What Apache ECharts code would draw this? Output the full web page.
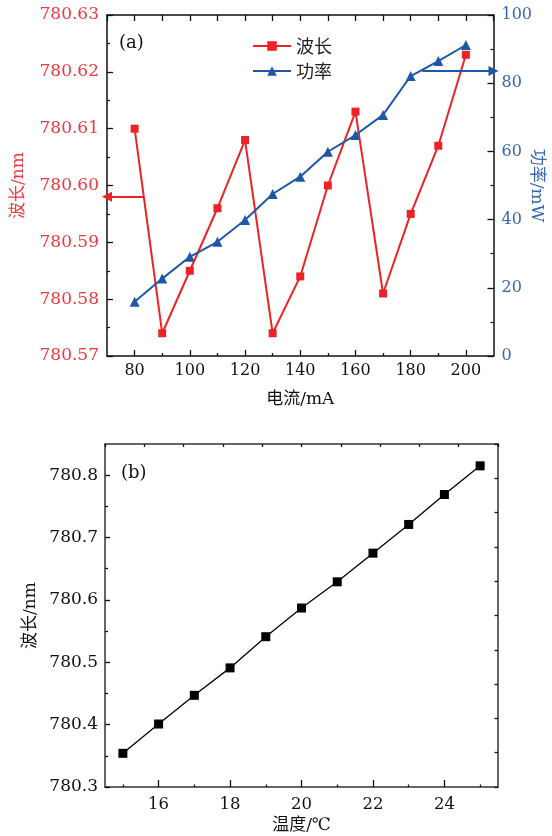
<!DOCTYPE html>
<html>
<head>
<meta charset="utf-8">
<title>波长 - 电流 / 温度</title>
<script src="https://cdn.jsdelivr.net/npm/echarts@6.0.0/dist/echarts.min.js"></script>
<style>
html, body { margin: 0; padding: 0; background: #fff; }
#chart { width: 552px; height: 836px; }
#err { position: absolute; left: 0; top: 0; font-size: 11px; color: #c00; }
</style>
</head>
<body>
<div id="chart"></div>
<pre id="err"></pre>
<script>
// (a) 电流扫描
var currentMA = [80, 90, 100, 110, 120, 130, 140, 150, 160, 170, 180, 190, 200];
var waveA = [780.610, 780.574, 780.585, 780.596, 780.608, 780.574, 780.584, 780.600, 780.613, 780.581, 780.595, 780.607, 780.623];
var powerMW = [15.9, 22.7, 29.1, 33.5, 39.9, 47.5, 52.6, 59.9, 64.8, 70.7, 82.1, 86.5, 91.2];
// arrows that point each curve to its own axis
var arrowWave = [[83.4, 780.598], [70, 780.598]];
var arrowPower = [[184.2, 83.6], [210, 83.6]];
var ticksAx = [80, 100, 120, 140, 160, 180, 200];
var minorTicksAx = [90, 110, 130, 150, 170, 190];

// (b) 温度扫描
var tempC = [15, 16, 17, 18, 19, 20, 21, 22, 23, 24, 25];
var waveB = [780.354, 780.401, 780.447, 780.491, 780.541, 780.587, 780.629, 780.675, 780.721, 780.769, 780.815];
var ticksBx = [16, 18, 20, 22, 24];
var minorTicksBx = [15, 17, 19, 21, 23, 25];
var ticksBy = [780.3, 780.4, 780.5, 780.6, 780.7, 780.8];
var minorTicksBy = [780.35, 780.45, 780.55, 780.65, 780.75];

var RED = '#ec2227';
var RED_TXT = '#ea3a40';
var BLUE = '#1f57a7';
var BLUE_TXT = '#3a66b0';
var SERIF = '"DejaVu Serif", "Noto Sans CJK SC"';
var CJK = '"Noto Sans CJK SC"';

function pairs(xs, ys) {
  return xs.map(function (x, i) { return [x, ys[i]]; });
}

// every axis here is a plain black line with inside ticks
function frame(extra) {
  var base = {
    type: 'value',
    nameMoveOverlap: false,
    axisLine: { show: true, onZero: false, lineStyle: { color: '#111', width: 1.5 } },
    axisTick: { show: true, inside: true, length: 6, lineStyle: { color: '#111', width: 1.3 } },
    axisLabel: { show: false },
    splitLine: { show: false }
  };
  for (var k in extra) {
    if (typeof extra[k] === 'object' && base[k] && !Array.isArray(extra[k])) {
      base[k] = Object.assign({}, base[k], extra[k]);
    } else {
      base[k] = extra[k];
    }
  }
  return base;
}

var chart = echarts.init(document.getElementById('chart'));

var option = {
  animation: false,
  backgroundColor: '#fff',
  grid: [
    { left: 107, top: 15, width: 386.5, height: 341, outerBoundsMode: 'none' },
    { left: 105, top: 444, width: 393, height: 343, outerBoundsMode: 'none' }
  ],
  legend: {
    data: ['波长', '功率'],
    orient: 'vertical',
    left: 247,
    top: 32,
    itemWidth: 38,
    itemHeight: 12,
    itemGap: 7,
    textStyle: { fontFamily: CJK, fontSize: 18, color: '#222' }
  },
  graphic: [
    { type: 'text', left: 119, top: 34, style: { text: '(a)', font: '18px "DejaVu Serif"', fill: '#111' } },
    { type: 'text', left: 121, top: 464, style: { text: '(b)', font: '18px "DejaVu Serif"', fill: '#111' } }
  ],
  xAxis: [
    frame({
      gridIndex: 0, position: 'bottom', min: 70, max: 210,
      name: '电流/mA', nameLocation: 'middle', nameGap: 35,
      nameTextStyle: { fontFamily: SERIF, fontSize: 17, color: '#111' },
      axisTick: { customValues: ticksAx, length: 6 },
      axisLabel: { show: true, customValues: ticksAx, margin: 7, fontFamily: SERIF, fontSize: 16, color: '#111' }
    }),
    frame({
      gridIndex: 0, position: 'bottom', min: 70, max: 210,
      axisLine: { show: false },
      axisTick: { customValues: minorTicksAx, length: 3 }
    }),
    frame({
      gridIndex: 0, position: 'top', min: 70, max: 210, interval: 10,
      axisTick: { length: 6 }
    }),
    frame({
      gridIndex: 1, position: 'bottom', min: 14.5, max: 25.5,
      name: '温度/℃', nameLocation: 'middle', nameGap: 30,
      nameTextStyle: { fontFamily: SERIF, fontSize: 17, color: '#111' },
      axisLine: { lineStyle: { color: '#333', width: 1.5 } },
      axisTick: { customValues: ticksBx, length: 7 },
      axisLabel: { show: true, customValues: ticksBx, margin: 9, fontFamily: SERIF, fontSize: 16.5, color: '#111' }
    }),
    frame({
      gridIndex: 1, position: 'bottom', min: 14.5, max: 25.5,
      axisLine: { show: false },
      axisTick: { customValues: minorTicksBx, length: 2.5 }
    }),
    frame({
      gridIndex: 1, position: 'top', min: 0, max: 10, interval: 1,
      axisLine: { lineStyle: { color: '#333', width: 1.5 } },
      axisTick: { length: 3 }
    })
  ],
  yAxis: [
    frame({
      gridIndex: 0, position: 'left', min: 780.57, max: 780.63, interval: 0.01,
      name: '波长/nm', nameLocation: 'middle', nameGap: 80,
      nameTextStyle: { fontFamily: SERIF, fontSize: 17, color: RED_TXT },
      minorTick: { show: true, splitNumber: 2, length: 3, lineStyle: { color: '#111', width: 1.2 } },
      axisLabel: {
        show: true, margin: 8, fontFamily: SERIF, fontSize: 17, color: RED_TXT,
        formatter: function (v) { return v.toFixed(2); }
      }
    }),
    frame({
      gridIndex: 0, position: 'right', min: 0, max: 100, interval: 20,
      name: '功率/mW', nameLocation: 'middle', nameGap: 34, nameRotate: -90,
      nameTextStyle: { fontFamily: SERIF, fontSize: 17, color: BLUE_TXT },
      minorTick: { show: true, splitNumber: 2, length: 3, lineStyle: { color: '#111', width: 1.2 } },
      axisLabel: { show: true, margin: 8, fontFamily: SERIF, fontSize: 16, color: BLUE_TXT }
    }),
    frame({
      gridIndex: 1, position: 'left', min: 780.3, max: 780.85,
      name: '波长/nm', nameLocation: 'middle', nameGap: 66,
      nameTextStyle: { fontFamily: SERIF, fontSize: 17, color: '#111' },
      axisLine: { lineStyle: { color: '#333', width: 1.5 } },
      axisTick: { customValues: ticksBy, length: 5 },
      axisLabel: {
        show: true, customValues: ticksBy, margin: 7, fontFamily: SERIF, fontSize: 17, color: '#111',
        formatter: function (v) { return v.toFixed(1); }
      }
    }),
    frame({
      gridIndex: 1, position: 'left', min: 780.3, max: 780.85,
      axisLine: { show: false },
      axisTick: { customValues: minorTicksBy, length: 3 }
    }),
    frame({
      gridIndex: 1, position: 'right', min: 0, max: 10, interval: 1,
      axisLine: { lineStyle: { color: '#333', width: 1.5 } },
      axisTick: { length: 3.5 }
    })
  ],
  series: [
    {
      name: '波长',
      type: 'line',
      xAxisIndex: 0,
      yAxisIndex: 0,
      data: pairs(currentMA, waveA),
      symbol: 'rect',
      symbolSize: 8,
      color: RED,
      lineStyle: { width: 2, color: RED },
      itemStyle: { color: RED },
      markLine: {
        silent: true,
        symbol: ['none', 'triangle'],
        symbolSize: 10,
        label: { show: false },
        lineStyle: { type: 'solid', width: 2, color: RED },
        data: [[{ coord: arrowWave[0] }, { coord: arrowWave[1] }]]
      }
    },
    {
      name: '功率',
      type: 'line',
      xAxisIndex: 0,
      yAxisIndex: 1,
      data: pairs(currentMA, powerMW),
      symbol: 'triangle',
      symbolSize: 10,
      color: BLUE,
      lineStyle: { width: 2, color: BLUE },
      itemStyle: { color: BLUE },
      markLine: {
        silent: true,
        symbol: ['none', 'triangle'],
        symbolSize: 10,
        label: { show: false },
        lineStyle: { type: 'solid', width: 2, color: BLUE },
        data: [[{ coord: arrowPower[0] }, { coord: arrowPower[1] }]]
      }
    },
    {
      name: 'b',
      type: 'line',
      xAxisIndex: 3,
      yAxisIndex: 2,
      data: pairs(tempC, waveB),
      symbol: 'rect',
      symbolSize: 9,
      color: '#000',
      lineStyle: { width: 1.3, color: '#000' },
      itemStyle: { color: '#000' }
    }
  ]
};

try {
  chart.setOption(option);
} catch (e) {
  document.getElementById('err').textContent = String(e && e.stack || e);
}
</script>
</body>
</html>
